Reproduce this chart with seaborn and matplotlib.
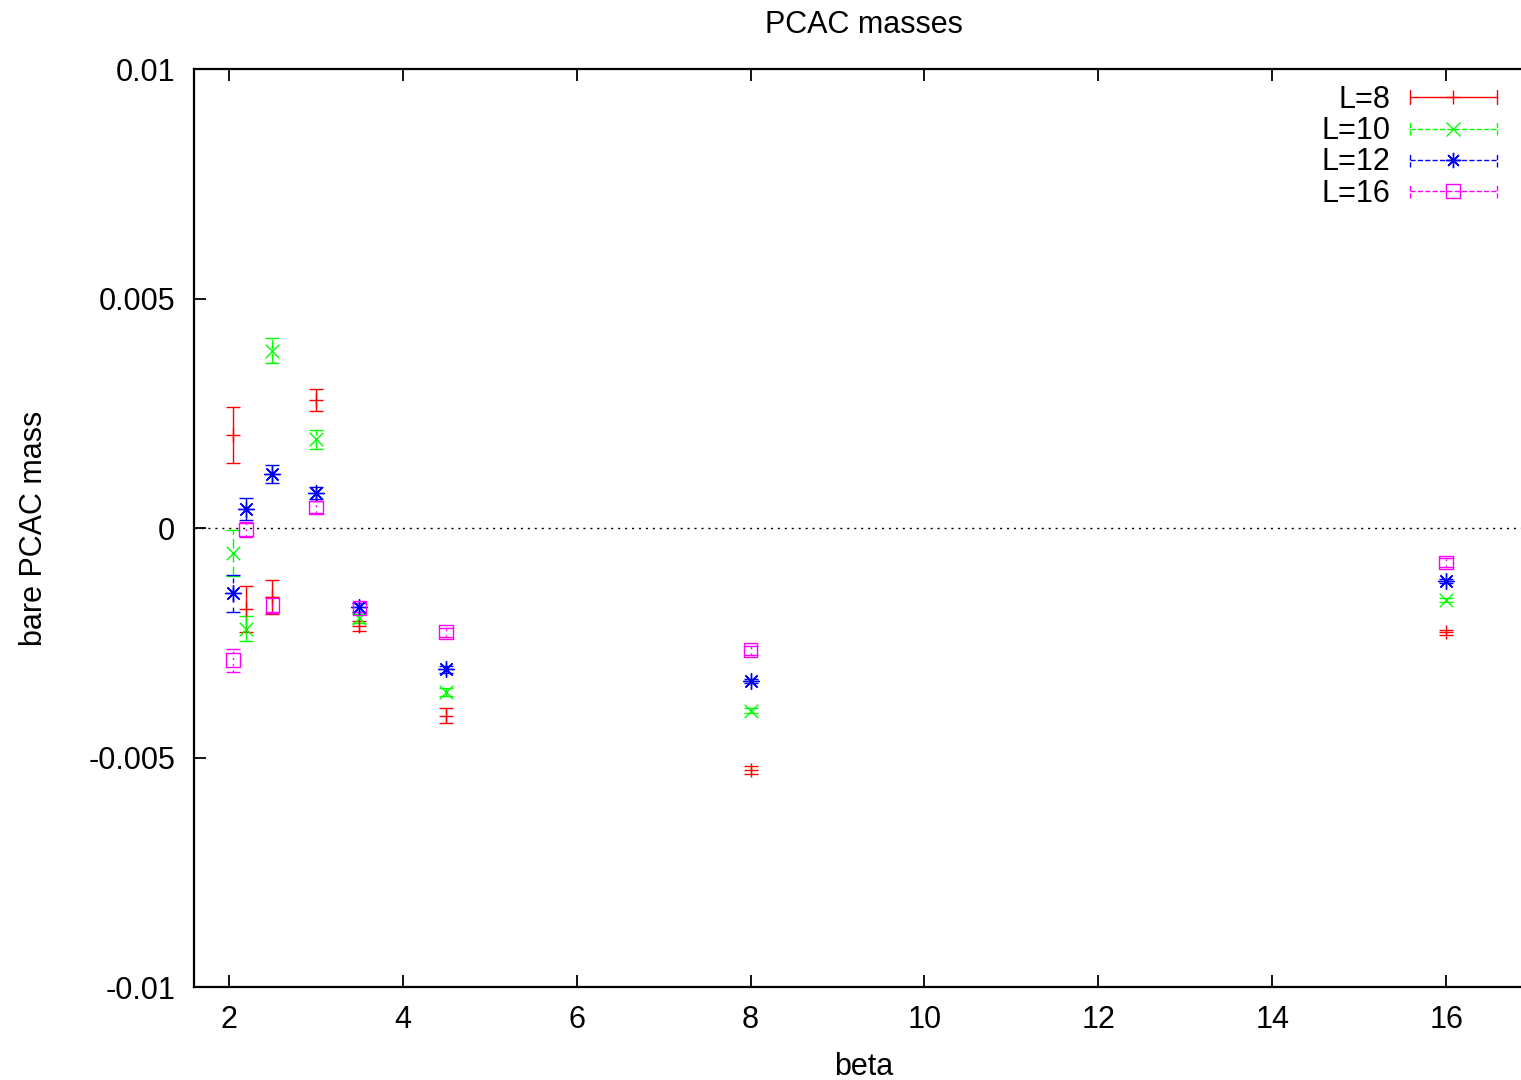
import matplotlib
matplotlib.use("Agg")
import matplotlib.pyplot as plt
from matplotlib.lines import Line2D
from matplotlib.markers import MarkerStyle
from matplotlib.legend_handler import HandlerBase
import numpy as np
import pandas as pd
import seaborn as sns

# ---- data -------------------------------------------------------------
beta = [2.05, 2.2, 2.5, 3.0, 3.5, 4.5, 8.0, 16.0]

m_L8 = [0.00202, -0.00176, -0.00150, 0.00279, -0.00213, -0.00409, -0.00527, -0.00227]
e_L8 = [0.00061, 0.00050, 0.00037, 0.00023, 0.00011, 0.00016, 0.00009, 0.00005]

m_L10 = [-0.00055, -0.00219, 0.00386, 0.00193, -0.00197, -0.00357, -0.00398, -0.00157]
e_L10 = [0.00050, 0.00027, 0.00027, 0.00021, 0.00010, 0.00008, 0.00005, 0.00005]

m_L12 = [-0.00142, 0.00041, 0.00118, 0.00077, -0.00173, -0.00308, -0.00333, -0.00115]
e_L12 = [0.00040, 0.00024, 0.00020, 0.00013, 0.00010, 0.00007, 0.00005, 0.00005]

m_L16 = [-0.00288, -0.00003, -0.00168, 0.00045, -0.00174, -0.00227, -0.00266, -0.00075]
e_L16 = [0.00025, 0.00017, 0.00018, 0.00013, 0.00010, 0.00010, 0.00010, 0.00010]

series_labels = ["L=8", "L=10", "L=12", "L=16"]
x_ticks = [2, 4, 6, 8, 10, 12, 14, 16]
y_ticks = [-0.01, -0.005, 0.0, 0.005, 0.01]
y_tick_labels = ["-0.01", "-0.005", "0", "0.005", "0.01"]

# ---- styling ----------------------------------------------------------
FS = 22
sns.set_style("ticks")
plt.rcParams["font.family"] = ["Liberation Sans", "DejaVu Sans"]
plt.rcParams["font.size"] = FS
plt.rcParams["text.color"] = "black"
plt.rcParams["axes.labelcolor"] = "black"
plt.rcParams["xtick.color"] = "black"
plt.rcParams["ytick.color"] = "black"

colors = ["#ff0000", "#00ff00", "#0000ff", "#ff00ff"]
markers = ["+", "x", (8, 2, 0), MarkerStyle("s", fillstyle="none")]
marker_sizes = [95, 95, 130, 95]
linestyles = ["solid", (0, (7, 3)), (0, (3.5, 3.5)), (0, (1.5, 3))]

frames = []
for lab, m, e in zip(series_labels, [m_L8, m_L10, m_L12, m_L16],
                     [e_L8, e_L10, e_L12, e_L16]):
    frames.append(pd.DataFrame({"beta": beta, "mass": m, "err": e, "L": lab}))
df = pd.concat(frames, ignore_index=True)

fig = plt.figure(figsize=(15.21, 10.8), dpi=100)
ax = fig.add_axes([0.1276, 0.0861, 0.8804, 0.85])

ax.axhline(0, color="black", lw=1.0, ls=(0, (1.5, 3.5)), zorder=1)

for lab, col, mk, ms, ls in zip(series_labels, colors, markers, marker_sizes,
                                linestyles):
    sub = df[df["L"] == lab]
    eb = ax.errorbar(sub["beta"], sub["mass"], yerr=sub["err"], fmt="none",
                     ecolor=col, elinewidth=1.0, capsize=4.7, capthick=1.0,
                     zorder=2)
    for coll in eb[2]:
        coll.set_linestyle(ls)
    sns.scatterplot(data=sub, x="beta", y="mass", ax=ax, marker=mk,
                    color=col, s=ms, linewidth=1.0, legend=False, zorder=3)

ax.set_xlim(1.6, 17.0)
ax.set_ylim(-0.01, 0.01)
ax.set_xticks(x_ticks)
ax.set_xticklabels([str(t) for t in x_ticks])
ax.set_yticks(y_ticks)
ax.set_yticklabels(y_tick_labels)

ax.tick_params(direction="in", length=8.6, width=1.3, top=True, right=True,
               labelsize=FS)
ax.tick_params(axis="x", pad=13.0)
ax.tick_params(axis="y", pad=13.6)
for sp in ax.spines.values():
    sp.set_linewidth(1.6)
    sp.set_color("black")

ax.set_title("PCAC masses", fontsize=FS, pad=26.0)
ax.set_xlabel("beta", fontsize=FS)
ax.set_ylabel("bare PCAC mass", fontsize=FS)
ax.xaxis.set_label_coords(0.5, -0.0710)
ax.yaxis.set_label_coords(-0.1080, 0.5)


# legend sample: horizontal bar with end caps and the point marker centred
class HandlerErrorSample(HandlerBase):
    def create_artists(self, legend, orig_handle, xdescent, ydescent,
                       width, height, fontsize, trans):
        y = height / 2 - ydescent
        x0, x1 = -xdescent, width - xdescent
        cap = 5.0
        col = orig_handle.get_color()
        ls = orig_handle.get_linestyle()
        lw = orig_handle.get_linewidth()
        bar = Line2D([x0, x1], [y, y], color=col, linestyle=ls, linewidth=lw)
        capl = Line2D([x0, x0], [y - cap, y + cap], color=col, linestyle=ls,
                      linewidth=lw)
        capr = Line2D([x1, x1], [y - cap, y + cap], color=col, linestyle=ls,
                      linewidth=lw)
        mark = Line2D([(x0 + x1) / 2], [y], linestyle="none",
                      marker=orig_handle.get_marker(),
                      markersize=orig_handle.get_markersize(),
                      markerfacecolor="none", markeredgecolor=col,
                      markeredgewidth=1.0)
        arts = [bar, capl, capr, mark]
        for a in arts:
            a.set_transform(trans)
        return arts


handles = []
for col, mk, ls, msz in zip(colors, ["+", "x", (8, 2, 0), "s"], linestyles,
                            [9.5, 9.5, 11.0, 9.5]):
    handles.append(Line2D([], [], color=col, linestyle=ls, linewidth=1.0,
                          marker=mk, markersize=msz, markerfacecolor="none"))

ax.legend(handles, series_labels, handler_map={Line2D: HandlerErrorSample()},
          loc="upper right", bbox_to_anchor=(1497 / 1521, 1 - 85 / 1080),
          bbox_transform=fig.transFigure, frameon=False, markerfirst=False,
          handlelength=2.85, handletextpad=0.65, labelspacing=0.04,
          borderpad=0.0, borderaxespad=0.0, fontsize=FS)

fig.savefig("out.png", dpi=100)
